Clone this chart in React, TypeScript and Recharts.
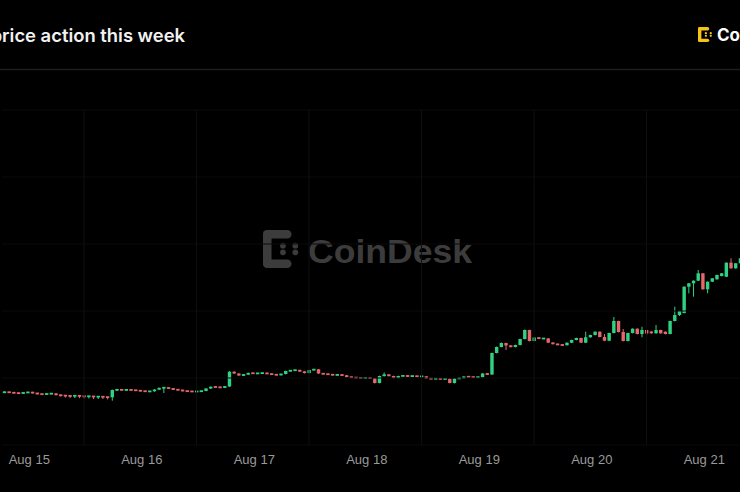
import React from "react";
import { ComposedChart, Bar, XAxis, YAxis, ReferenceLine } from "recharts";

// Hourly candles, first candle = hour 7 of Aug 15 (hour index counted from Aug 15 00:00)
const FIRST_HOUR = 7;

const OPEN = [
  607.5, 608, 607.5, 607, 606.7, 607.3, 607.8, 607, 606, 605.7, 606.2, 606.5, 605, 604.5, 604.2, 604, 604.4, 603.8, 603.6, 603.8,
  603.2, 603.5, 603, 602.7, 610, 610.3, 610, 610.2, 609.9, 609.5, 609, 608.5, 608.7, 610.5, 612, 612.5, 611.5, 610.5, 610, 609,
  608.7, 608.4, 608.6, 609, 611.5, 613.2, 612.8, 612.5, 613.5, 628.3, 626.5, 624.5, 625.5, 627, 626.5, 626.7, 627, 626.2, 625.5, 625,
  626, 629, 629.5, 630, 628.5, 627, 630, 630.7, 626.5, 626, 625.5, 625, 625.2, 624.7, 623, 622.5, 622.2, 622, 622.1, 621.7,
  617, 624, 625.5, 624, 622, 624, 624.2, 623.8, 624, 623.5, 623.7, 621.5, 621.2, 621.4, 621, 621.2, 617, 621.5, 621.7, 623.5,
  623, 622.7, 622.9, 626.5, 625.5, 647, 653, 657, 654.5, 653, 655, 661, 670, 659, 662.5, 661.3, 661.6, 657.3, 656, 655.2,
  654.8, 657.3, 660, 662, 657.3, 662.7, 665, 668.3, 663, 659.3, 667, 679, 668, 659, 667, 671.3, 666, 670, 668.5, 666.7,
  670, 668.3, 666, 679, 685, 687, 713.3, 716.7, 719.3, 726.7, 710.7, 718.3, 720.7, 724, 723.3, 737.3, 731.7, 736.7,
];
const CLOSE = [
  608, 607.5, 607, 606.7, 607.3, 607.8, 607, 606, 605.7, 606.2, 606.5, 605, 604.5, 604.2, 604, 604.4, 603.8, 603.6, 603.8, 603.2,
  603.5, 603, 602.7, 610, 610.3, 610, 610.2, 609.9, 609.5, 609, 608.5, 608.7, 610.5, 612, 612.5, 611.5, 610.5, 610, 609, 608.7,
  608.4, 608.6, 609, 611.5, 613.2, 612.8, 612.5, 613.5, 628.3, 626.5, 624.5, 625.5, 627, 626.5, 626.7, 627, 626.2, 625.5, 625, 626,
  629, 629.5, 630, 628.5, 627, 630, 630.7, 626.5, 626, 625.5, 625, 625.2, 624.7, 623, 622.5, 622.2, 622, 622.1, 621.7, 617,
  624, 625.5, 624, 622, 624, 624.2, 623.8, 624, 623.5, 623.7, 621.5, 621.2, 621.4, 621, 621.2, 617, 621.5, 621.7, 623.5, 623,
  622.7, 622.9, 626.5, 625.5, 647, 653, 657, 654.5, 653, 655, 661, 670, 659, 662.5, 661.3, 661.6, 657.3, 656, 655.2, 654.8,
  657.3, 660, 662, 657.3, 662.7, 665, 668.3, 663, 659.3, 667, 679, 668, 659, 667, 671.3, 666, 670, 666.5, 666.7, 670,
  666.7, 666, 679, 685, 689, 713.3, 716.7, 719.3, 726.7, 710.7, 718.3, 721.7, 725, 726.7, 737.3, 731.7, 736.7, 741.7,
];
const HIGH = [
  608.5, 608.3, 608, 607.3, 607.7, 608.2, 608.2, 607.3, 606.3, 606.5, 606.8, 606.8, 605.3, 604.8, 604.5, 604.7, 604.7, 604, 604.1, 604,
  603.8, 603.8, 603.2, 610.5, 610.7, 610.7, 610.6, 610.6, 610.2, 609.8, 609.3, 609, 610.8, 612.4, 613, 612.8, 611.8, 610.8, 610.3, 609.3,
  609, 608.9, 609.3, 611.8, 613.6, 613.5, 613.1, 613.8, 628.8, 628.6, 626.8, 625.8, 627.3, 627.3, 627, 627.3, 627.3, 626.5, 625.8, 626.3,
  629.3, 629.8, 630.3, 630.3, 628.8, 630.3, 631, 631, 626.8, 626.3, 625.8, 625.5, 625.5, 625, 623.3, 622.8, 622.5, 622.4, 622.4, 622,
  624.4, 627.5, 625.8, 624.3, 624.3, 624.5, 624.5, 624.3, 624.3, 624, 624, 621.8, 621.7, 621.7, 621.5, 621.5, 621.8, 622, 623.8, 623.8,
  623.3, 623.2, 627, 626.8, 647.3, 653.5, 657.5, 657.3, 654.8, 655.3, 661.3, 670.5, 670.3, 662.8, 662.8, 661.9, 661.9, 657.6, 656.3, 655.5,
  657.6, 660.3, 662.3, 662.3, 668.3, 665.3, 668.6, 668.6, 666, 667.3, 683, 679.3, 671, 667.3, 671.6, 671.6, 673.3, 670.3, 668.8, 675,
  670.3, 668.6, 679.3, 693.3, 689.3, 713.6, 717, 719.6, 730, 727, 718.6, 722, 725.3, 727, 737.6, 741.7, 737, 742,
];
const LOW = [
  607, 607, 606.5, 606, 606.2, 607, 606.5, 605.5, 605, 605.2, 605.7, 604.5, 603.5, 602.5, 602, 602, 601.8, 601.5, 601.5, 601,
  601, 601, 600.7, 599.3, 609.5, 609.5, 609.6, 609.4, 609, 608.6, 608, 608.1, 608.3, 610.2, 607, 611, 610, 609.6, 608.6, 608.3,
  608, 608.1, 608.3, 608.7, 611.2, 612.4, 612.1, 612.1, 613.1, 626, 624, 624.1, 625.1, 626.1, 626.1, 626.4, 625.8, 625.1, 624.6, 624.6,
  625.6, 628.6, 629.1, 628.1, 626.6, 626.6, 629.6, 626.1, 625.6, 625.1, 624.6, 624.7, 624.3, 622.6, 622.1, 621.8, 621.6, 621.7, 621.3, 616.5,
  616.6, 623.6, 623.6, 621.6, 621.6, 623.7, 623.4, 623.5, 623.1, 623.2, 621.1, 620.8, 620.9, 620.6, 620.7, 616.6, 616.6, 621.2, 621.3, 622.6,
  622.3, 622.4, 622.5, 625, 625, 646.6, 652.6, 650, 652.6, 652.6, 654.6, 660.6, 658.6, 658.6, 660.9, 661, 656.9, 655.6, 654.8, 654.4,
  654.4, 656.9, 659.6, 656.9, 656.9, 662.3, 664.6, 662.6, 658.9, 658.9, 666.6, 667.6, 658.6, 658.6, 666.6, 665.6, 662.7, 665, 666.3, 666.3,
  666.3, 665.6, 665.6, 678.6, 684, 686.6, 706.7, 703.3, 718.9, 710.3, 706.7, 717.9, 720.3, 723.6, 722.9, 731.3, 731.3, 736.3,
];

const TICK_HOURS = [12, 36, 60, 84, 108, 132, 156];
const TICK_LABELS = ["Aug 15", "Aug 16", "Aug 17", "Aug 18", "Aug 19", "Aug 20", "Aug 21"];
const DAY_BREAKS = [24, 48, 72, 96, 120, 144];
const PRICE_GRID = [555, 622, 689, 756, 823, 890];

const GREEN = "#30d282";
const RED = "#e4676b";

const rows = OPEN.map((o, i) => ({
  h: FIRST_HOUR + i,
  open: o,
  close: CLOSE[i],
  high: HIGH[i],
  low: LOW[i],
  range: [LOW[i], HIGH[i]],
}));

const Candle = (props: any) => {
  const { x, y, width, height, payload } = props;
  if (!payload) return null;
  const { open, close, high, low } = payload;
  const top = Math.min(y, y + height);
  const h = Math.abs(height);
  const ratio = high - low > 0 ? h / (high - low) : 0;
  const yO = top + (high - open) * ratio;
  const yC = top + (high - close) * ratio;
  const color = close >= open ? GREEN : RED;
  const cx = x + width / 2;
  const bH = Math.max(Math.abs(yO - yC), 1.8);
  const bTop = (yO + yC) / 2 - bH / 2;
  return (
    <g>
      <line x1={cx} x2={cx} y1={top} y2={top + h} stroke={color} strokeWidth={1} />
      <rect x={cx - 1.7} y={bTop} width={3.4} height={bH} fill={color} />
    </g>
  );
};

const Mark = ({ x, y, s, color }: { x: number; y: number; s: number; color: string }) => {
  const k = s / 40;
  return (
    <g transform={`translate(${x},${y}) scale(${k})`} fill={color}>
      <rect x={0} y={0} width={9} height={40} rx={4.5} />
      <rect x={0} y={0} width={30} height={9} rx={4.5} />
      <rect x={0} y={31} width={30} height={9} rx={4.5} />
      <circle cx={21} cy={16.5} r={3} />
      <circle cx={21} cy={23.5} r={3} />
      <circle cx={34} cy={16.5} r={3} />
      <circle cx={34} cy={23.5} r={3} />
    </g>
  );
};

export default function App() {
  return (
    <div
      style={{
        position: "fixed",
        left: 0,
        top: 0,
        width: 740,
        height: 492,
        background: "#000",
        overflow: "hidden",
      }}
    >
      <svg width={740} height={492} style={{ position: "absolute", left: 0, top: 0 }}>
        <line x1={0} x2={740} y1={69.5} y2={69.5} stroke="#1d1d1d" strokeWidth={1.5} />
        <text
          x={185}
          y={41.5}
          textAnchor="end"
          fill="#f2f2f2"
          fontSize={18.4}
          fontWeight={600}
          fontFamily="Inter, 'Liberation Sans', sans-serif"
        >
          price action this week
        </text>
        <Mark x={698} y={27} s={15} color="#f6c416" />
        <text x={717} y={40.5} fill="#ffffff" fontSize={17} fontWeight={700} fontFamily="Inter, 'Liberation Sans', sans-serif">
          CoinDesk
        </text>
        <Mark x={263} y={230} s={38} color="#3c3c3c" />
        <text
          x={308}
          y={263}
          fill="#3c3c3c"
          fontSize={33}
          fontWeight={700}
          textLength={164}
          lengthAdjust="spacingAndGlyphs"
          fontFamily="'Liberation Sans', Arial, sans-serif"
        >
          CoinDesk
        </text>
      </svg>
      <div style={{ position: "absolute", left: 1.97, top: 0 }}>
        <ComposedChart
          width={740.625}
          height={492}
          data={rows}
          margin={{ top: 110, right: 0, bottom: 17, left: 0 }}
        >
          <XAxis
            dataKey="h"
            type="category"
            ticks={TICK_HOURS}
            interval={0}
            height={30}
            axisLine={false}
            tickLine={false}
            tickMargin={4}
            tickFormatter={(v: number) => TICK_LABELS[TICK_HOURS.indexOf(v)] ?? ""}
            tick={{ fill: "#9a9a9a", fontSize: 13, dx: 1.5, fontFamily: "'Liberation Sans', Arial, sans-serif" }}
          />
          <YAxis hide domain={[555, 890]} ticks={PRICE_GRID} allowDataOverflow />
          {PRICE_GRID.map((v) => (
            <ReferenceLine key={`p${v}`} y={v} stroke="#0a0a0a" strokeWidth={1} />
          ))}
          {DAY_BREAKS.map((h) => (
            <ReferenceLine key={`d${h}`} x={h} stroke="#0f0f0f" strokeWidth={1} />
          ))}
          <Bar dataKey="range" shape={Candle} isAnimationActive={false} />
        </ComposedChart>
      </div>
    </div>
  );
}
